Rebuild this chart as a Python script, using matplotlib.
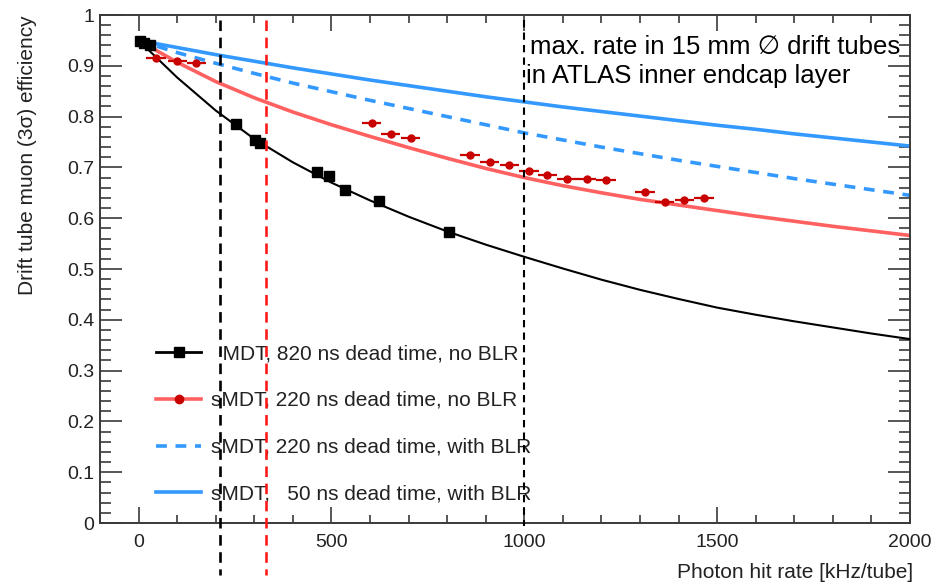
import matplotlib
matplotlib.use('Agg')
import matplotlib.pyplot as plt
from matplotlib.lines import Line2D
from matplotlib.ticker import MultipleLocator

plt.rcParams['font.family'] = ['Liberation Sans', 'DejaVu Sans']

# measured efficiencies
mdt_rate = [5, 15, 30, 252, 302, 315, 463, 494, 535, 624, 804]
mdt_eff = [0.949, 0.944, 0.941, 0.785, 0.753, 0.749, 0.690, 0.683, 0.656, 0.634, 0.572]

smdt_rate = [45, 100, 150, 604, 654, 705, 859, 910, 961, 1012, 1060, 1111,
             1162, 1212, 1313, 1364, 1415, 1466]
smdt_eff = [0.916, 0.909, 0.905, 0.788, 0.766, 0.758, 0.724, 0.711, 0.704, 0.693,
            0.686, 0.677, 0.677, 0.675, 0.651, 0.632, 0.636, 0.640]
smdt_rate_err = 25

# expected efficiency vs. rate
curve_rate = [0, 100, 200, 300, 400, 500, 600, 700, 800, 900, 1000, 1100, 1200,
              1300, 1400, 1500, 1600, 1700, 1800, 1900, 2000]
mdt_820 = [0.950, 0.877, 0.812, 0.756, 0.710, 0.670, 0.635, 0.603, 0.574, 0.548,
           0.524, 0.501, 0.479, 0.459, 0.441, 0.424, 0.410, 0.397, 0.385, 0.373, 0.362]
smdt_220 = [0.950, 0.907, 0.869, 0.837, 0.809, 0.784, 0.761, 0.739, 0.718, 0.698,
            0.680, 0.664, 0.650, 0.637, 0.626, 0.615, 0.604, 0.594, 0.584, 0.575, 0.566]
smdt_220_blr = [0.950, 0.926, 0.905, 0.885, 0.866, 0.849, 0.832, 0.816, 0.800, 0.784,
                0.768, 0.754, 0.740, 0.727, 0.714, 0.702, 0.690, 0.678, 0.667, 0.656, 0.645]
smdt_50_blr = [0.950, 0.936, 0.922, 0.909, 0.896, 0.884, 0.872, 0.861, 0.850, 0.839,
               0.829, 0.819, 0.810, 0.801, 0.792, 0.783, 0.775, 0.766, 0.758, 0.750, 0.742]

# reference rates (vertical markers)
rate_black = 210
rate_red = 330
rate_max = 1000

legend_labels = ['  MDT, 820 ns dead time, no BLR',
                 'sMDT, 220 ns dead time, no BLR',
                 'sMDT, 220 ns dead time, with BLR',
                 'sMDT,   50 ns dead time, with BLR']
y_ticks = [0, 0.1, 0.2, 0.3, 0.4, 0.5, 0.6, 0.7, 0.8, 0.9, 1]
y_ticklabels = ['0', '0.1', '0.2', '0.3', '0.4', '0.5', '0.6', '0.7', '0.8', '0.9', '1']
x_ticks = [0, 500, 1000, 1500, 2000]

W, H = 936, 584
fig = plt.figure(figsize=(W / 100, H / 100), dpi=100)
ax = fig.add_axes([100 / W, 61 / H, 810 / W, 508 / H])

red_line = '#ff6161'
red_dot = '#c80000'
blue = '#3399ff'
frame = '#3a3a3a'
txt = '#222222'

ax.plot(curve_rate, smdt_50_blr, color=blue, lw=2.6, zorder=2)
ax.plot(curve_rate, smdt_220_blr, color=blue, lw=2.6, dashes=(3, 2.4), zorder=2)
ax.plot(curve_rate, smdt_220, color=red_line, lw=2.6, zorder=2)
ax.plot(curve_rate, mdt_820, color='black', lw=1.5, zorder=3)

ax.plot(mdt_rate, mdt_eff, 's', color='black', ms=6.5, zorder=4)
ax.errorbar(smdt_rate, smdt_eff, xerr=smdt_rate_err, fmt='o', color=red_dot,
            ms=5, elinewidth=1.6, capsize=0, zorder=4)

# dead-time rate markers, drawn through the axis
ax.plot([rate_black, rate_black], [0.99, -0.102], color='black', lw=1.9,
        dashes=(4, 2.5), clip_on=False, zorder=6)
ax.plot([rate_red, rate_red], [0.99, -0.102], color='#ff1a1a', lw=1.9,
        dashes=(4, 2.5), clip_on=False, zorder=6)
ax.plot([rate_max, rate_max], [0.99, -0.005], color='black', lw=1.5,
        dashes=(3.5, 2.5), clip_on=False, zorder=6)

ax.set_xlim(-100, 2000)
ax.set_ylim(0, 1)
ax.set_xticks(x_ticks)
ax.set_xticklabels([str(v) for v in x_ticks])
ax.set_yticks(y_ticks)
ax.set_yticklabels(y_ticklabels)
ax.xaxis.set_minor_locator(MultipleLocator(100))
ax.yaxis.set_minor_locator(MultipleLocator(0.02))
ax.tick_params(axis='x', which='major', direction='in', length=11.5, width=1.2,
               top=True, bottom=True, colors=frame, labelcolor=txt,
               labelsize=14, pad=8)
ax.tick_params(axis='x', which='minor', direction='in', length=5.8, width=1.2,
               top=True, bottom=True, colors=frame)
ax.tick_params(axis='y', which='major', direction='in', length=16, width=1.2,
               left=True, right=True, colors=frame, labelcolor=txt,
               labelsize=14, pad=4)
ax.tick_params(axis='y', which='minor', direction='in', length=8, width=1.2,
               left=True, right=True, colors=frame)
for sp in ax.spines.values():
    sp.set_color(frame)
    sp.set_linewidth(1.4)

handles = [
    Line2D([], [], color='black', lw=2, marker='s', ms=6.5),
    Line2D([], [], color=red_line, lw=2.6, marker='o', ms=6,
           mfc=red_dot, mec=red_dot),
    Line2D([], [], color=blue, lw=2.6, dashes=(3, 2.4)),
    Line2D([], [], color=blue, lw=2.6),
]
leg = ax.legend(handles, legend_labels, loc='upper left',
                bbox_to_anchor=(156 / W, 1 - 344 / H),
                bbox_transform=fig.transFigure, frameon=False, fontsize=15,
                handlelength=2.16, handletextpad=0.48, labelspacing=1.34,
                borderpad=0, borderaxespad=0, numpoints=1)
for t in leg.get_texts():
    t.set_color(txt)
leg.set_zorder(5)

fig.text(530 / W, 1 - 47 / H, 'max. rate in 15 mm \u2205 drift tubes',
         fontsize=18.5, ha='left', va='center', color='black')
fig.text(526 / W, 1 - 76 / H, 'in ATLAS inner endcap layer',
         fontsize=18.5, ha='left', va='center', color='black')

fig.text(28 / W, 1 - 15 / H, 'Drift tube muon (3\u03c3) efficiency',
         rotation=90, ha='center', va='top', fontsize=15, color=txt)
fig.text(913 / W, 1 - 573 / H, 'Photon hit rate [kHz/tube]',
         ha='right', va='center', fontsize=15, color=txt)

fig.savefig('out.png', dpi=100)
